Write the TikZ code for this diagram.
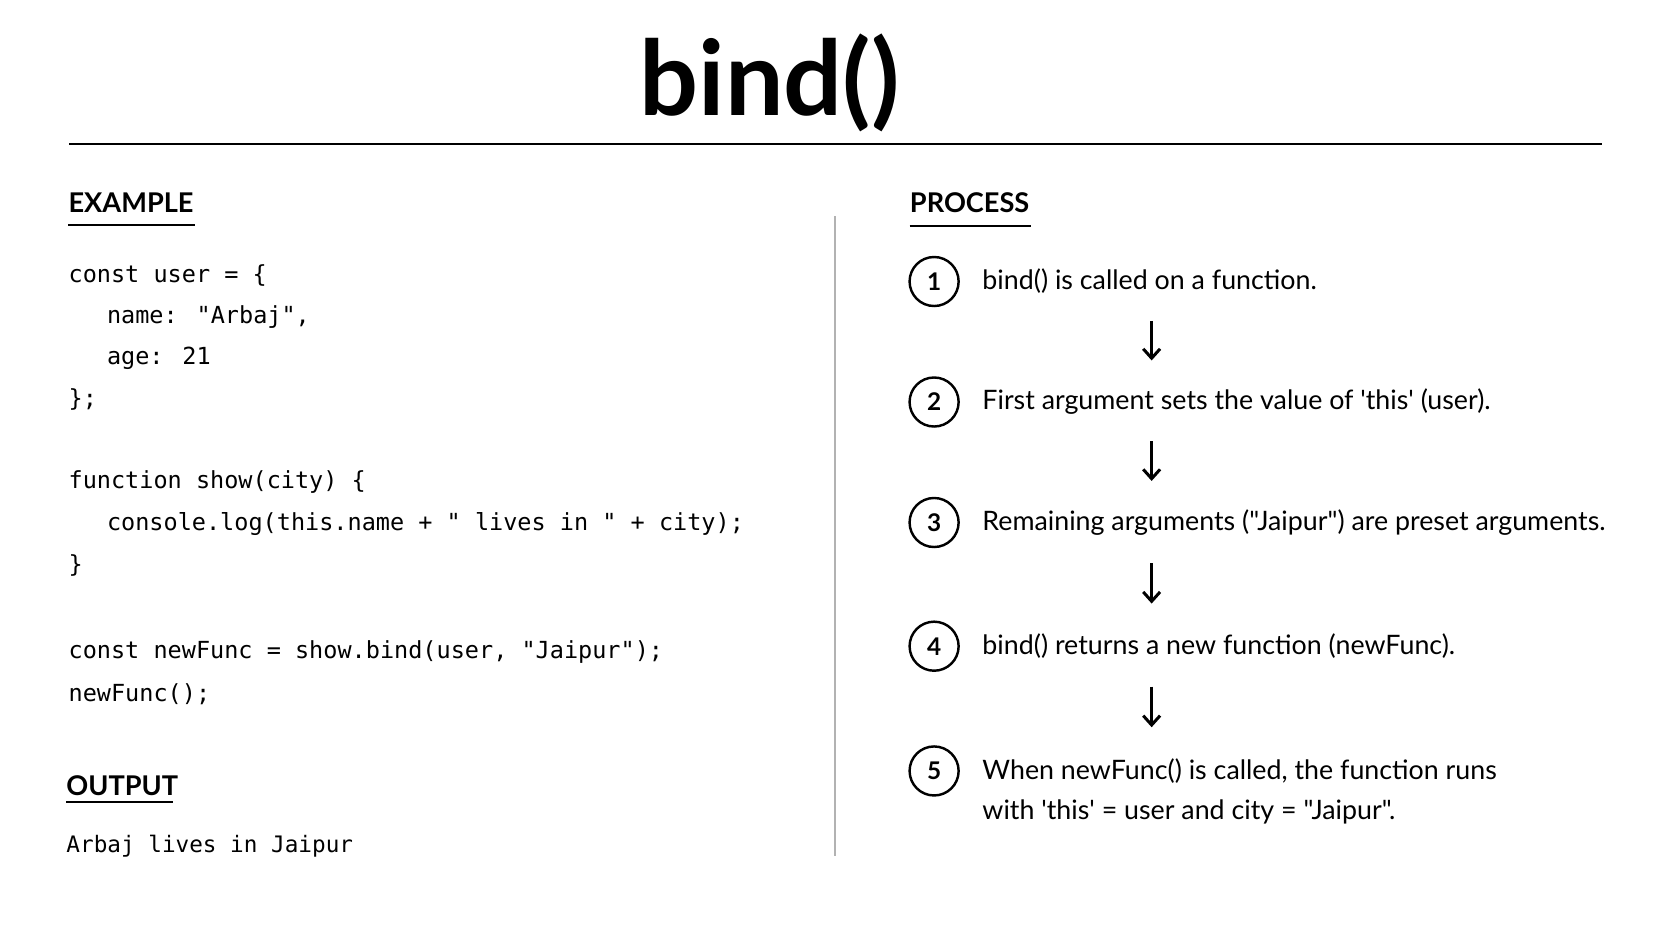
\documentclass[tikz,border=0pt]{standalone}
\usepackage{fontspec}
\setmainfont{Lato}[Ligatures=TeXOff]
\newfontfamily\codefont{DejaVu Sans Mono}[Ligatures=TeXOff]
\usetikzlibrary{arrows.meta}
\begin{document}
\begin{tikzpicture}[x=0.02cm,y=-0.02cm,
  code/.style={anchor=west,inner sep=0,font=\codefont\fontsize{12.55}{14}\selectfont},
  txt/.style={anchor=west,inner sep=0,font=\fontsize{14.3}{16}\selectfont},
  head/.style={anchor=south west,inner sep=0,font=\bfseries\fontsize{14.5}{16}\selectfont},
  num/.style={circle,draw,line width=1.3pt,minimum size=0.92cm,inner sep=0,font=\bfseries\fontsize{13}{15}\selectfont},
  arr/.style={-{Straight Barb[length=5pt,width=9pt]},line width=1.6pt}]
\useasboundingbox (0,0) rectangle (1568,882);
\node[font=\bfseries\fontsize{55.5}{62}\selectfont,inner sep=0] (title) at (722,78) {bind()};
\draw[line width=1.2pt] (65,135) -- (1502,135);
% left
\node[head] (ex) at (64,200) {EXAMPLE};
\draw[line width=1pt] (64,211) -- (183,211);
\node[code] (c1) at (64,258) {const user = \{};
\node[code] (c2) at (100,297) {name: "Arbaj",};
\node[code] (c3) at (100,336) {age: 21};
\node[code] (c4) at (64,375) {\};};
\node[code] (c5) at (64,452) {function show(city) \{};
\node[code] (c6) at (100,491) {console.log(this.name + " lives in " + city);};
\node[code] (c7) at (64,530) {\}};
\node[code] (c8) at (64,611) {const newFunc = show.bind(user, "Jaipur");};
\node[code] (c9) at (64,651) {newFunc();};
\node[head] (out) at (62,747) {OUTPUT};
\node[code,font=\codefont\fontsize{12.1}{14}\selectfont] (o1) at (62,794) {Arbaj lives in Jaipur};
\draw[line width=1pt] (62,752) -- (162,752);
\draw[gray!60,line width=0.8pt] (783,203) -- (783,803);
% right
\node[head] (pr) at (853,200) {PROCESS};
\draw[line width=1pt] (853,212) -- (967,212);
\foreach \i/\y/\t in {1/264/{bind() is called on a function.},
  2/377/{First argument sets the value of 'this' (user).},
  3/490/{Remaining arguments ("Jaipur") are preset arguments.},
  4/606/{bind() returns a new function (newFunc).},
  5/723/{When newFunc() is called, the function runs}}{
  \node[num] (n\i) at (876,\y) {\i};
  \node[txt] (t\i) at (921,\y) {\t};
}
\node[txt] (t5b) at (921,761) {with 'this' = user and city = "Jaipur".};
\coordinate (a1s) at (1080,301); \coordinate (a1e) at (1080,338);
\coordinate (a2s) at (1080,414); \coordinate (a2e) at (1080,451);
\coordinate (a3s) at (1080,528); \coordinate (a3e) at (1080,566);
\coordinate (a4s) at (1080,644); \coordinate (a4e) at (1080,682);
\foreach \k in {1,2,3,4}{\draw[arr] (a\k s) -- (a\k e);}
\end{tikzpicture}
\end{document}
